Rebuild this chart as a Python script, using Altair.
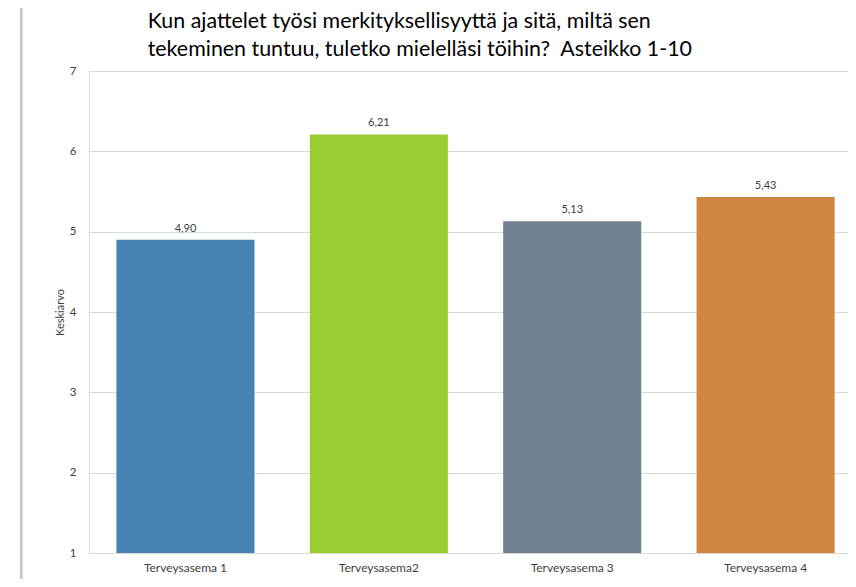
import altair as alt
import pandas as pd

categories = ["Terveysasema 1", "Terveysasema2", "Terveysasema 3", "Terveysasema 4"]
values = [4.90, 6.21, 5.13, 5.43]
value_labels = ["4,90", "6,21", "5,13", "5,43"]
bar_colors = ["#4682B4", "#9ACD32", "#708090", "#CD853F"]
y_ticks = [1, 2, 3, 4, 5, 6, 7]
title_lines = [
    "Kun ajattelet työsi merkityksellisyyttä ja sitä, miltä sen",
    "tekeminen tuntuu, tuletko mielelläsi töihin?\u00a0 Asteikko 1-10",
]
y_title = "Keskiarvo"

df = pd.DataFrame({"cat": categories, "val": values, "label": value_labels, "base": [1] * len(values)})

W, H = 759, 482
FONT = "Lato"
TXT = "#404040"

x_enc = alt.X(
    "cat:N",
    sort=categories,
    scale=alt.Scale(paddingInner=0.286, paddingOuter=0.1055, align=0.672),
    axis=alt.Axis(
        title=None, labelAngle=0, domain=True, domainColor="#d9d9d9", domainWidth=1,
        ticks=False, tickSize=0, labelFontSize=12, labelColor=TXT, labelFont=FONT,
        labelPadding=9.5,
    ),
)
y_enc = alt.Y(
    "val:Q",
    scale=alt.Scale(domain=[1, 7], zero=False, nice=False),
    axis=alt.Axis(
        values=y_ticks, format="d", title=y_title, grid=True, gridColor="#d9d9d9", gridWidth=1,
        domain=False, ticks=False, tickSize=0, labelPadding=13, labelFontSize=11.5,
        labelColor=TXT, labelFont=FONT, titleFont=FONT, titleFontSize=11,
        titleFontWeight="normal", titleColor=TXT, titleX=-25.5, titleY=H / 2,
        titleAngle=-90, titleBaseline="alphabetic", titleAlign="center",
    ),
)

bars = alt.Chart(df).mark_bar().encode(
    x=x_enc,
    y=y_enc,
    y2=alt.Y2("base:Q"),
    color=alt.Color("cat:N", scale=alt.Scale(domain=categories, range=bar_colors), legend=None),
)

texts = alt.Chart(df).mark_text(
    baseline="alphabetic", dy=-8, fontSize=11, font=FONT, color=TXT
).encode(x=alt.X("cat:N", sort=categories), y="val:Q", text="label:N")

border = alt.Chart(df).mark_rule(color="#c6c6c6", strokeWidth=2).encode(
    x=alt.value(-67.8), y=alt.value(-63), y2=alt.value(H + 26)
)

chart = (
    alt.layer(border, bars, texts)
    .properties(
        width=W,
        height=H,
        autosize=alt.AutoSizeParams(type="none"),
        padding={"left": 81, "top": 63, "right": 0, "bottom": 26},
        title=alt.TitleParams(
            text=title_lines, anchor="start", frame="group", dx=58.7, dy=70.4, fontSize=21.4,
            lineHeight=28.4, font=FONT, fontWeight="normal", color="#000000", offset=0,
            baseline="alphabetic",
        ),
    )
    .configure_view(stroke=None)
    .configure(background="white")
)

chart.save("out.html", embed_options={"renderer": "svg", "actions": False})
